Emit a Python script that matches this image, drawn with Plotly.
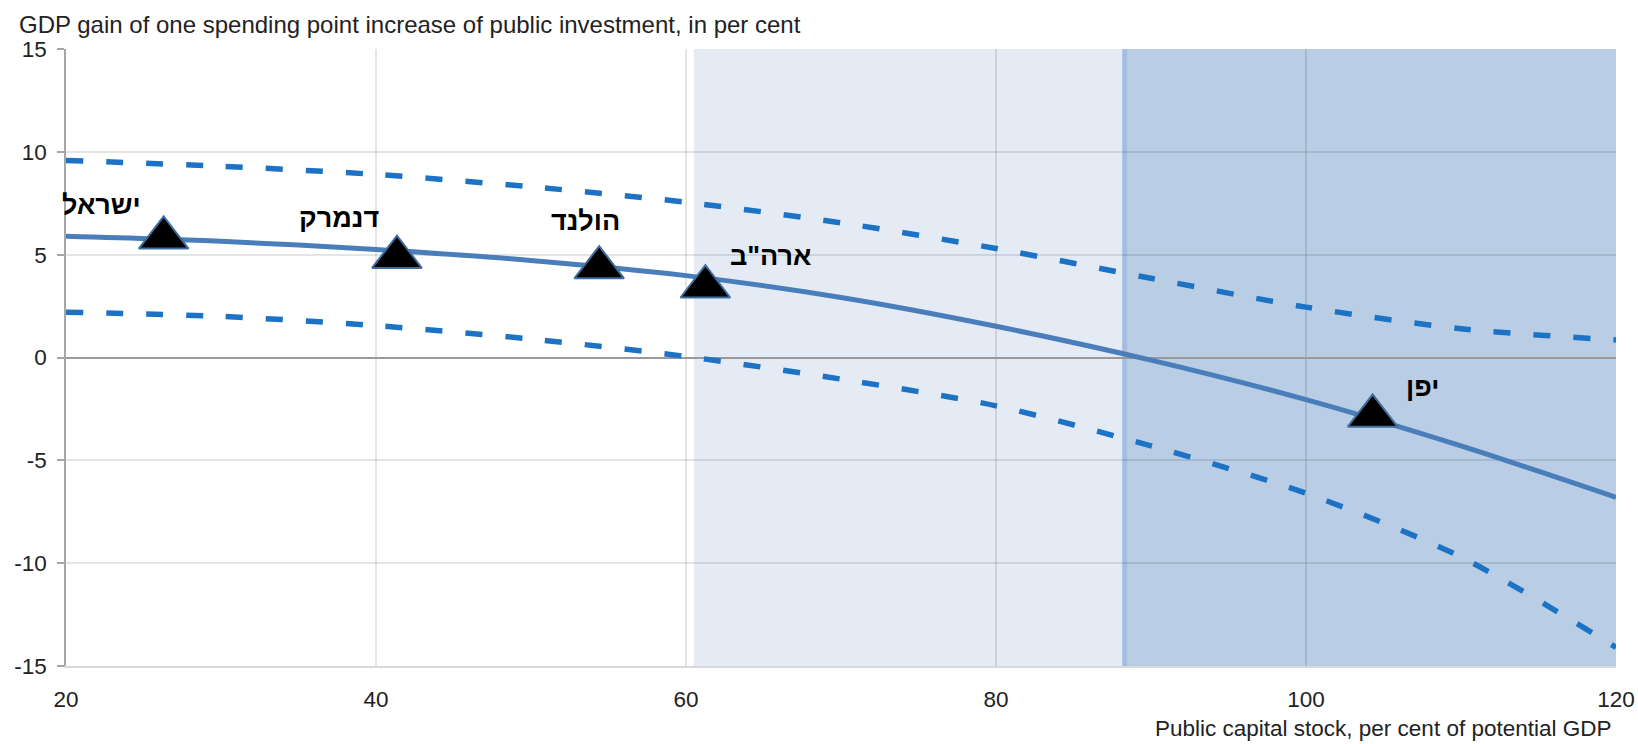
import plotly.graph_objects as go

# ---- data ----
x_grid = [20, 30, 40, 50, 60, 70, 80, 90, 100, 110, 120]
central = [5.89, 5.65, 5.25, 4.72, 3.98, 2.92, 1.52, -0.13, -2.05, -4.3, -6.8]
upper = [9.58, 9.3, 8.9, 8.3, 7.55, 6.55, 5.3, 3.85, 2.45, 1.4, 0.85]
lower = [2.2, 2.0, 1.55, 0.9, 0.05, -1.05, -2.35, -4.3, -6.6, -9.7, -14.1]

countries = ["ישראל", "דנמרק", "הולנד", 'ארה"ב', "יפן"]
country_x = [26.3, 41.35, 54.4, 61.25, 104.3]
country_y = [5.82, 4.88, 4.37, 3.44, -2.84]

zone_light = [60.5, 88.3]
zone_dark = [88.3, 120]

x_ticks = [20, 40, 60, 80, 100, 120]
y_ticks = [-15, -10, -5, 0, 5, 10, 15]
y_ticktext = ["-15", "-10", "-5", "0", "5", "10", "15"]

title_text = "GDP gain of one spending point increase of public investment, in per cent"
xaxis_title = "Public capital stock, per cent of potential GDP"

# ---- style ----
FONT = "Liberation Sans, Arial, DejaVu Sans, sans-serif"
label_offsets = [(-62, 33), (-58, 39), (-14, 47), (66, 31), (50, 29)]
GRID = "rgba(0,0,0,0.10)"

fig = go.Figure()

fig.add_trace(go.Scatter(x=x_grid, y=upper, mode="lines",
                         line=dict(color="#1C72C4", width=5.5, dash="17px,23px", shape="spline", smoothing=0.8),
                         hoverinfo="skip", showlegend=False))
fig.add_trace(go.Scatter(x=x_grid, y=lower, mode="lines",
                         line=dict(color="#1C72C4", width=5.5, dash="17px,23px", shape="spline", smoothing=0.8),
                         hoverinfo="skip", showlegend=False))
fig.add_trace(go.Scatter(x=x_grid, y=central, mode="lines",
                         line=dict(color="#4A7EBB", width=5, shape="spline", smoothing=0.8),
                         hoverinfo="skip", showlegend=False))
fig.add_trace(go.Scatter(x=country_x, y=country_y, mode="markers",
                         marker=dict(symbol="triangle-up", size=43, color="black",
                                     line=dict(color="#3F6E9E", width=2)),
                         hoverinfo="skip", showlegend=False))

for name, cx, cy, (dx, dy) in zip(countries, country_x, country_y, label_offsets):
    fig.add_annotation(x=cx, y=cy, xref="x", yref="y", text="<b>%s</b>" % name,
                       showarrow=False, xshift=dx, yshift=dy,
                       xanchor="center", yanchor="middle",
                       font=dict(family=FONT, size=27, color="black"))

# shaded zones
fig.add_shape(type="rect", xref="x", yref="y", x0=zone_light[0], x1=zone_light[1], y0=-15, y1=15,
              fillcolor="#E4EBF5", line=dict(width=0), layer="below")
fig.add_shape(type="rect", xref="x", yref="y", x0=zone_dark[0], x1=zone_dark[1], y0=-15, y1=15.1,
              fillcolor="#B9CDE5", line=dict(width=0), layer="below")
fig.add_shape(type="line", xref="x", yref="y", x0=zone_dark[0], x1=zone_dark[0], y0=-15, y1=15.1,
              line=dict(color="#A6BEDD", width=5), layer="below")

fig.add_annotation(text=title_text, xref="paper", yref="paper", x=0, y=1,
                   xanchor="left", yanchor="middle", xshift=-49, yshift=25, showarrow=False,
                   font=dict(family=FONT, size=24, color="#222222"))
fig.add_annotation(text=xaxis_title, xref="paper", yref="paper", x=1, y=0,
                   xanchor="right", yanchor="middle", xshift=-3, yshift=-62, showarrow=False,
                   font=dict(family=FONT, size=22.5, color="#222222"))

fig.update_layout(
    width=1638, height=744,
    margin=dict(l=66, r=22, t=49, b=78, pad=0),
    paper_bgcolor="white", plot_bgcolor="white",
    font=dict(family=FONT, size=22, color="#222222"),
    xaxis=dict(range=[20, 120], tickvals=x_ticks, showgrid=True, gridcolor=GRID, automargin=False,
               gridwidth=1.5, zeroline=False, showline=True, linecolor="#D9D9D9", linewidth=1.5,
               ticks="", ticklabelstandoff=12, tickfont=dict(family=FONT, size=22.5, color="#222222")),
    yaxis=dict(range=[-15, 15], tickvals=y_ticks, ticktext=y_ticktext, showgrid=True, gridcolor=GRID,
               automargin=False,
               gridwidth=1.5, zeroline=True, zerolinecolor="#9A9A9A", zerolinewidth=1.5,
               showline=True, linecolor="#A6A6A6", linewidth=1.5,
               ticks="outside", ticklen=7, tickcolor="#A6A6A6", tickwidth=1.5,
               ticklabelstandoff=6, tickfont=dict(family=FONT, size=22.5, color="#222222")),
)

fig.write_html("out.html", config={"displayModeBar": False},
               post_script="document.body.style.margin='0';document.body.style.overflow='hidden';")
